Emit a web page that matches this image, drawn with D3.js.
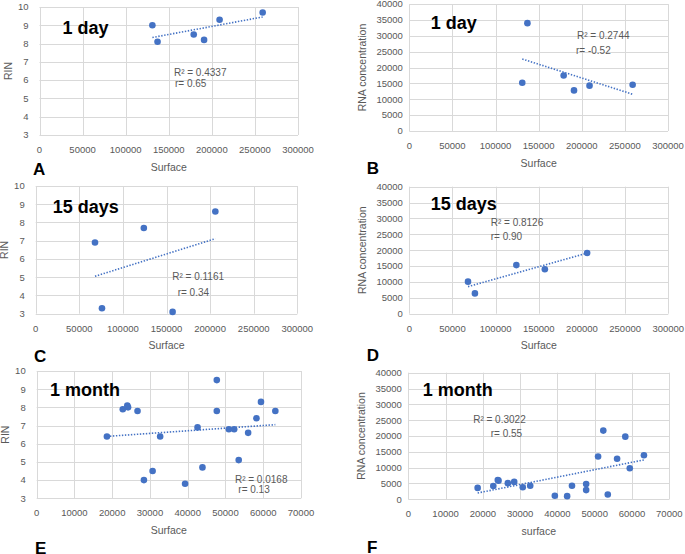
<!DOCTYPE html>
<html>
<head>
<meta charset="utf-8">
<script src="https://cdn.jsdelivr.net/npm/d3@7"></script>
<style>
  body { margin: 0; background: #fff; }
  svg { font-family: "Liberation Sans", Arial, sans-serif; }
</style>
</head>
<body>
<script>
// Data
var surf1d = [131000, 137000, 179000, 191000, 209000, 259000];
var rin1d = [9.0, 8.1, 8.5, 8.2, 9.3, 9.7];
var rna1d = [15200, 34000, 17500, 12800, 14300, 14600];

var surf15d = [68000, 76000, 124000, 157000, 206000];
var rin15d = [6.9, 3.3, 7.7, 3.1, 8.6];
var rna15d = [10100, 6400, 15300, 14000, 19100];

var surf1m = [18600, 22800, 24000, 24200, 26700, 28400, 30700, 32700, 39300, 42600,
              43900, 47700, 47700, 50900, 52300, 53500, 56000, 58200, 59400, 63200];
var rin1m = [6.4, 7.9, 8.1, 8.0, 7.8, 4.0, 4.5, 6.4, 3.8, 6.9,
             4.7, 9.5, 7.8, 6.8, 6.8, 5.1, 6.6, 7.4, 8.3, 7.8];
var rna1m = [3600, 4200, 6100, 5900, 5100, 5500, 3800, 4300, 1100, 1000,
             4300, 4800, 2900, 13500, 21700, 1500, 12800, 19800, 9800, 13900];

var rinTicks = [3, 4, 5, 6, 7, 8, 9, 10];
var rnaTicks = [0, 5000, 10000, 15000, 20000, 25000, 30000, 35000, 40000];
var surfTicksWide = [0, 50000, 100000, 150000, 200000, 250000, 300000];
var surfTicksNarrow = [0, 10000, 20000, 30000, 40000, 50000, 60000, 70000];

var letters = ['A', 'B', 'C', 'D', 'E', 'F'];
var periods = ['1 day', '1 day', '15 days', '15 days', '1 month', '1 month'];
var r2Text = ['R² = 0.4337', 'R² = 0.2744', 'R² = 0.1161', 'R² = 0.8126', 'R² = 0.0168', 'R² = 0.3022'];
var rText = ['r= 0.65', 'r= -0.52', 'r= 0.34', 'r= 0.90', 'r= 0.13', 'r= 0.55'];

// Layout of the six panels (pixel boxes of the plot areas, label offsets)
var panels = [
  { xs: surf1d, ys: rin1d, xt: surfTicksWide, yt: rinTicks, yTitle: 'RIN', xTitle: 'Surface',
    box: [39.5, 7, 298, 135], r2At: [156000, 6.41], rAt: [157200, 5.79], head: [23, 27], letter: [33, 175] },
  { xs: surf1d, ys: rna1d, xt: surfTicksWide, yt: rnaTicks, yTitle: 'RNA concentration', xTitle: 'Surface',
    box: [409.3, 4.1, 668, 131], r2At: [194500, 30260], rAt: [193300, 25500], head: [21.4, 25], letter: [366.7, 174.3] },
  { xs: surf15d, ys: rin15d, xt: surfTicksWide, yt: rinTicks, yTitle: 'RIN', xTitle: 'Surface',
    box: [35.7, 186, 297.3, 313.7], r2At: [156600, 5.03], rAt: [162800, 4.15], head: [17, 26.7], letter: [34, 361.7] },
  { xs: surf15d, ys: rna15d, xt: surfTicksWide, yt: rnaTicks, yTitle: 'RNA concentration', xTitle: 'Surface',
    box: [409.3, 186.7, 668.3, 313.7], r2At: [94300, 28660], rAt: [94300, 24250], head: [21.4, 23.3], letter: [366.7, 360.7] },
  { xs: surf1m, ys: rin1m, xt: surfTicksNarrow, yt: rinTicks, yTitle: 'RIN', xTitle: 'Surface',
    box: [36.7, 371, 301, 498.3], r2At: [52500, 4.06], rAt: [53400, 3.5], head: [13.3, 25], letter: [35, 554] },
  { xs: surf1m, ys: rna1m, xt: surfTicksNarrow, yt: rnaTicks, yTitle: 'RNA concentration', xTitle: 'surface',
    box: [408.3, 372.7, 669.3, 499.3], r2At: [17400, 25300], rAt: [22100, 20850], head: [14.4, 23.3], letter: [367, 553.3] }
];

var blue = '#4472C4', grey = '#595959', grid = '#d9d9d9';

var svg = d3.select('body').append('svg').attr('width', 685).attr('height', 554);

// least-squares line through the points, like Excel's linear trendline
function fit(xs, ys) {
  var mx = d3.mean(xs), my = d3.mean(ys);
  var sxy = d3.sum(xs, function(x, i){ return (x - mx) * (ys[i] - my); });
  var sxx = d3.sum(xs, function(x){ return (x - mx) * (x - mx); });
  var b = sxy / sxx;
  return function(x){ return my + b * (x - mx); };
}

panels.forEach(function(p, k){
  var b = p.box;
  var x = d3.scaleLinear().domain(d3.extent(p.xt)).range([b[0], b[2]]);
  var y = d3.scaleLinear().domain(d3.extent(p.yt)).range([b[3], b[1]]);
  var g = svg.append('g');
  var gap = p.yTitle === 'RIN' ? 11 : 6.5;

  // gridlines
  g.selectAll('.hg').data(p.yt).enter().append('line')
    .attr('x1', b[0]).attr('x2', b[2])
    .attr('y1', function(d){ return Math.round(y(d)) + 0.5; })
    .attr('y2', function(d){ return Math.round(y(d)) + 0.5; })
    .attr('stroke', grid).attr('stroke-width', 1);
  g.selectAll('.vg').data(p.xt).enter().append('line')
    .attr('y1', b[1]).attr('y2', b[3])
    .attr('x1', function(d){ return Math.round(x(d)) + 0.5; })
    .attr('x2', function(d){ return Math.round(x(d)) + 0.5; })
    .attr('stroke', grid).attr('stroke-width', 1);

  // tick labels
  g.selectAll('.yl').data(p.yt).enter().append('text')
    .attr('x', b[0] - gap).attr('y', function(d){ return y(d); })
    .attr('dy', '0.35em').attr('text-anchor', 'end')
    .attr('font-size', 9.5).attr('fill', grey)
    .text(function(d){ return d; });
  g.selectAll('.xl').data(p.xt).enter().append('text')
    .attr('x', function(d){ return x(d); }).attr('y', b[3] + 14.5)
    .attr('dy', '0.35em').attr('text-anchor', 'middle')
    .attr('font-size', 9.5).attr('fill', grey)
    .text(function(d){ return d; });

  // axis titles
  g.append('text').attr('x', (b[0] + b[2]) / 2).attr('y', b[3] + 32)
    .attr('dy', '0.35em').attr('text-anchor', 'middle')
    .attr('font-size', 10.5).attr('fill', grey).text(p.xTitle);
  var ytx = b[0] - (p.yTitle === 'RIN' ? 31 : 47);
  g.append('text').attr('transform', 'translate(' + ytx + ',' + ((b[1] + b[3]) / 2) + ') rotate(-90)')
    .attr('dy', '0.35em').attr('text-anchor', 'middle')
    .attr('font-size', 10.5).attr('fill', grey).text(p.yTitle);

  // trendline
  var f = fit(p.xs, p.ys);
  var ext = d3.extent(p.xs);
  g.append('line')
    .attr('x1', x(ext[0])).attr('y1', y(f(ext[0])))
    .attr('x2', x(ext[1])).attr('y2', y(f(ext[1])))
    .attr('stroke', blue).attr('stroke-width', 1.6)
    .attr('stroke-dasharray', '1.4,1.6');

  // points
  g.selectAll('circle').data(p.xs).enter().append('circle')
    .attr('cx', function(d){ return x(d); })
    .attr('cy', function(d, i){ return y(p.ys[i]); })
    .attr('r', 3.3).attr('fill', blue);

  // R² and r
  g.append('text').attr('x', x(p.r2At[0])).attr('y', y(p.r2At[1])).attr('dy', '0.35em')
    .attr('font-size', 10).attr('fill', grey).text(r2Text[k]);
  g.append('text').attr('x', x(p.rAt[0])).attr('y', y(p.rAt[1])).attr('dy', '0.35em')
    .attr('font-size', 10).attr('fill', grey).text(rText[k]);

  // period heading and panel letter
  g.append('text').attr('x', b[0] + p.head[0]).attr('y', b[1] + p.head[1])
    .attr('font-size', 18).attr('font-weight', 'bold').attr('fill', '#000').text(periods[k]);
  g.append('text').attr('x', p.letter[0]).attr('y', p.letter[1])
    .attr('font-size', 17).attr('font-weight', 'bold').attr('fill', '#000').text(letters[k]);
});
</script>
</body>
</html>
